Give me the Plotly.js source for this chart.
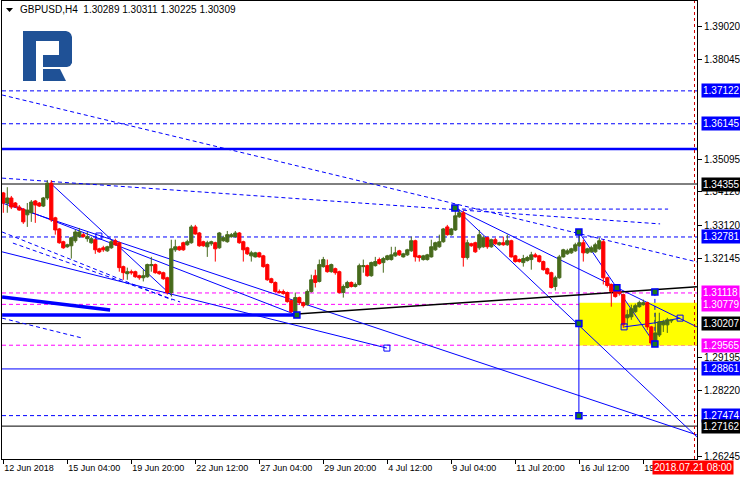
<!DOCTYPE html>
<html><head><meta charset="utf-8">
<script src="https://cdn.plot.ly/plotly-3.0.1.min.js"></script>
<style>html,body{margin:0;padding:0;background:#fff;}#chart{width:740px;height:480px;}</style>
</head><body><div id="chart"></div>
<script>
// ---- data (GBPUSD H4) ----
const symbolName = 'GBPUSD,H4';
const open = [1.3409,1.3379,1.3394,1.3379,1.3367,1.3361,1.3344,1.3350,1.3385,1.3379,1.3370,1.3394,1.3438,1.3335,1.3302,1.3264,1.3249,1.3252,1.3267,1.3279,
1.3285,1.3273,1.3261,1.3270,1.3243,1.3246,1.3237,1.3246,1.3267,1.3261,1.3190,1.3169,1.3175,1.3175,1.3163,1.3157,1.3160,1.3193,1.3196,1.3175,
1.3172,1.3157,1.3113,1.3240,1.3249,1.3261,1.3255,1.3261,1.3308,1.3290,1.3264,1.3249,1.3258,1.3261,1.3246,1.3267,1.3264,1.3279,1.3279,1.3290,
1.3264,1.3246,1.3222,1.3219,1.3231,1.3222,1.3196,1.3154,1.3143,1.3116,1.3116,1.3113,1.3089,1.3056,1.3098,1.3083,1.3077,1.3116,1.3163,1.3146,
1.3190,1.3193,1.3175,1.3184,1.3175,1.3113,1.3128,1.3143,1.3131,1.3137,1.3190,1.3193,1.3163,1.3193,1.3211,1.3202,1.3211,1.3211,1.3222,1.3237,
1.3219,1.3225,1.3237,1.3267,1.3222,1.3211,1.3211,1.3219,1.3240,1.3249,1.3264,1.3308,1.3285,1.3299,1.3338,1.3350,1.3217,1.3258,1.3261,1.3246,
1.3249,1.3276,1.3249,1.3270,1.3255,1.3261,1.3255,1.3267,1.3222,1.3211,1.3202,1.3208,1.3211,1.3225,1.3222,1.3205,1.3184,1.3172,1.3131,1.3157,
1.3219,1.3228,1.3231,1.3237,1.3252,1.3261,1.3231,1.3234,1.3234,1.3243,1.3264,1.3157,1.3137,1.3122,1.3119,1.3107,1.3038,1.3041,1.3056,1.3071,
1.3077,1.3083,1.3011,1.2963,1.2987,1.3017,1.3017,1.30289];
const high = [1.3412,1.3426,1.3400,1.3382,1.3373,1.3364,1.3379,1.3388,1.3388,1.3382,1.3397,1.3447,1.3447,1.3338,1.3305,1.3267,1.3258,1.3279,1.3299,1.3305,
1.3290,1.3293,1.3279,1.3276,1.3246,1.3252,1.3252,1.3270,1.3273,1.3264,1.3193,1.3187,1.3181,1.3178,1.3166,1.3181,1.3199,1.3219,1.3199,1.3178,
1.3175,1.3160,1.3270,1.3270,1.3252,1.3264,1.3270,1.3314,1.3314,1.3293,1.3267,1.3267,1.3267,1.3264,1.3293,1.3282,1.3296,1.3290,1.3296,1.3293,
1.3267,1.3249,1.3237,1.3234,1.3234,1.3225,1.3199,1.3157,1.3146,1.3122,1.3122,1.3116,1.3092,1.3113,1.3101,1.3086,1.3122,1.3166,1.3181,1.3211,
1.3219,1.3211,1.3199,1.3187,1.3178,1.3137,1.3148,1.3146,1.3143,1.3199,1.3211,1.3196,1.3205,1.3219,1.3217,1.3219,1.3225,1.3249,1.3249,1.3240,
1.3231,1.3243,1.3279,1.3270,1.3225,1.3225,1.3228,1.3270,1.3264,1.3285,1.3305,1.3314,1.3305,1.3364,1.3358,1.3356,1.3270,1.3261,1.3264,1.3299,
1.3282,1.3279,1.3273,1.3276,1.3264,1.3279,1.3285,1.3270,1.3225,1.3214,1.3225,1.3222,1.3234,1.3231,1.3225,1.3208,1.3187,1.3175,1.3163,1.3225,
1.3243,1.3243,1.3246,1.3261,1.3293,1.3270,1.3246,1.3252,1.3261,1.3276,1.3270,1.3160,1.3140,1.3128,1.3128,1.3110,1.3062,1.3077,1.3080,1.3089,
1.3092,1.3086,1.3014,1.3053,1.3053,1.3032,1.3038,1.30311];
const low = [1.3350,1.3350,1.3361,1.3364,1.3356,1.3317,1.3308,1.3323,1.3320,1.3367,1.3367,1.3388,1.3323,1.3285,1.3258,1.3243,1.3246,1.3214,1.3261,1.3276,
1.3276,1.3264,1.3258,1.3228,1.3231,1.3234,1.3234,1.3243,1.3252,1.3175,1.3151,1.3151,1.3166,1.3157,1.3151,1.3146,1.3157,1.3175,1.3169,1.3166,
1.3151,1.3107,1.3101,1.3234,1.3237,1.3237,1.3252,1.3258,1.3285,1.3249,1.3249,1.3219,1.3252,1.3205,1.3243,1.3264,1.3261,1.3276,1.3276,1.3258,
1.3205,1.3225,1.3205,1.3217,1.3217,1.3187,1.3148,1.3140,1.3113,1.3110,1.3107,1.3083,1.3053,1.3047,1.3077,1.3068,1.3074,1.3113,1.3128,1.3143,
1.3187,1.3172,1.3172,1.3166,1.3110,1.3098,1.3125,1.3128,1.3128,1.3134,1.3172,1.3160,1.3160,1.3190,1.3196,1.3172,1.3208,1.3208,1.3219,1.3222,
1.3217,1.3222,1.3234,1.3205,1.3205,1.3208,1.3208,1.3217,1.3237,1.3246,1.3261,1.3282,1.3282,1.3296,1.3335,1.3190,1.3211,1.3249,1.3231,1.3240,
1.3246,1.3243,1.3246,1.3255,1.3252,1.3252,1.3252,1.3217,1.3202,1.3202,1.3190,1.3205,1.3181,1.3217,1.3202,1.3178,1.3166,1.3125,1.3119,1.3154,
1.3217,1.3225,1.3228,1.3234,1.3249,1.3205,1.3228,1.3231,1.3231,1.3240,1.3137,1.3128,1.3071,1.3098,1.3104,1.3008,1.3017,1.3032,1.3053,1.3068,
1.3074,1.3002,1.2958,1.2958,1.2981,1.2996,1.2993,1.30225];
const close = [1.3379,1.3394,1.3367,1.3367,1.3358,1.3323,1.3358,1.3382,1.3373,1.3370,1.3394,1.3438,1.3329,1.3299,1.3261,1.3246,1.3255,1.3276,1.3293,1.3293,
1.3279,1.3279,1.3273,1.3240,1.3234,1.3240,1.3249,1.3264,1.3255,1.3187,1.3172,1.3175,1.3172,1.3160,1.3157,1.3163,1.3196,1.3196,1.3172,1.3169,
1.3154,1.3113,1.3243,1.3249,1.3240,1.3240,1.3264,1.3308,1.3287,1.3252,1.3252,1.3261,1.3264,1.3243,1.3290,1.3276,1.3285,1.3285,1.3290,1.3261,
1.3240,1.3228,1.3231,1.3231,1.3219,1.3190,1.3151,1.3143,1.3116,1.3113,1.3110,1.3086,1.3056,1.3098,1.3083,1.3074,1.3116,1.3151,1.3143,1.3196,
1.3211,1.3175,1.3196,1.3172,1.3113,1.3131,1.3143,1.3131,1.3137,1.3193,1.3193,1.3163,1.3202,1.3205,1.3199,1.3214,1.3222,1.3225,1.3231,1.3225,
1.3228,1.3240,1.3267,1.3219,1.3217,1.3222,1.3225,1.3249,1.3261,1.3264,1.3302,1.3285,1.3302,1.3341,1.3350,1.3217,1.3261,1.3252,1.3234,1.3285,
1.3276,1.3249,1.3270,1.3258,1.3261,1.3255,1.3267,1.3219,1.3205,1.3205,1.3214,1.3217,1.3225,1.3219,1.3205,1.3181,1.3169,1.3128,1.3157,1.3219,
1.3240,1.3237,1.3243,1.3255,1.3261,1.3231,1.3243,1.3246,1.3255,1.3267,1.3157,1.3134,1.3116,1.3101,1.3110,1.3017,1.3047,1.3065,1.3074,1.3083,
1.3083,1.3011,1.2963,1.2993,1.3026,1.3026,1.3032,1.30309];
const barIndex = open.map((_, i) => i);

// time-axis labels (every 16 bars)
const tickIndex = [0,16,32,48,64,80,96,112,128,144,160];
const tickLabels = ['12 Jun 2018','15 Jun 04:00','19 Jun 20:00','22 Jun 12:00','27 Jun 04:00','29 Jun 20:00','4 Jul 12:00','9 Jul 04:00','11 Jul 20:00','16 Jul 12:00','19 Jul 04:00'];
const cursorTime = '2018.07.21 08:00';
const cursorIndex = 172.8;

// price scale ticks
const priceTicks = [1.39020,1.38045,1.35095,1.34120,1.33120,1.32145,1.29195,1.28220,1.26245];

// horizontal levels
const blueDashLevels = [1.37122,1.36145,1.32781,1.27474];
const blueSolidLevels = [1.28861];
const blueThickLevels = [1.35396];
const blackLevels = [1.34355,1.30207,1.27162];
const magentaLevels = [1.31118,1.30779,1.29565];

// trend lines [bar0, price0, bar1, price1]
const dashedTrends = [[-0.3,1.3700,173.4,1.3204],[-0.3,1.3453,164.2,1.3317],[112.9,1.3361,166.2,1.3361],
  [-0.3,1.3293,42.2,1.3091],[2.4,1.3260,44.2,1.3085],[-0.3,1.3037,19.7,1.2978],[162.9,1.3115,162.9,1.2960]];
const solidTrends = [[-0.3,1.3379,173.4,1.2690],[-0.3,1.3385,73.4,1.3046],[-0.3,1.3234,95.9,1.2948],[11.7,1.3439,42.2,1.3103],
  [112.9,1.3364,173.4,1.2684],[143.9,1.3293,162.9,1.2960],[112.9,1.3364,173.4,1.3011],[143.9,1.3293,143.9,1.2747],
  [155.2,1.3011,162.9,1.3023],[162.9,1.3023,169.2,1.3037]];
const thickTrends = [[-0.3,1.3100,26.7,1.3061],[-0.3,1.3046,73.4,1.3046]];
const blackTrends = [[73.4,1.3049,173.4,1.3130]];
const zoneBars = [143.9,173.4];
const zonePrices = [1.2956,1.3083];
const anchorBars = [112.9,143.9,143.9,143.9,153.4,162.9,162.9,73.4];
const anchorPrices = [1.3364,1.3293,1.3021,1.2747,1.3127,1.2960,1.3115,1.3046];
const openBoxBars = [23.9,95.9,155.2,169.2];
const openBoxPrices = [1.3281,1.2948,1.3011,1.3037];

// ---- drawing ----
const FONT = 'Liberation Sans, Arial, sans-serif';
const BLUE = '#0000ff', MAG = '#ff00ff', GREEN = '#476a1c', RED = '#ff0000';
const M = {l:2, r:43, t:1, b:21};
const PW = 740 - M.l - M.r, PH = 480 - M.t - M.b;
const pX = x => (x - M.l) / PW;
const pY = y => 1 - (y - M.t) / PH;
const pathOf = pts => 'M' + pts.map(p => pX(p[0]).toFixed(5) + ',' + pY(p[1]).toFixed(5)).join('L') + 'Z';

const shapes = [];
shapes.push({type:'rect', xref:'x', yref:'y', x0:zoneBars[0], x1:zoneBars[1], y0:zonePrices[0], y1:zonePrices[1],
  fillcolor:'#ffff00', line:{width:0}, layer:'below'});
const hline = (p, color, dash, w) => shapes.push({type:'line', xref:'paper', yref:'y', x0:0, x1:1, y0:p, y1:p,
  line:{color:color, width:w, dash:dash}, layer:'below'});
blueDashLevels.forEach(p => hline(p, BLUE, '4px,3px', 1));
blueSolidLevels.forEach(p => hline(p, BLUE, 'solid', 1));
blueThickLevels.forEach(p => hline(p, BLUE, 'solid', 2.5));
blackLevels.forEach(p => hline(p, '#000', 'solid', 1));
magentaLevels.forEach(p => hline(p, MAG, '4px,3px', 1));
const seg = (t, color, dash, w) => shapes.push({type:'line', xref:'x', yref:'y', x0:t[0], y0:t[1], x1:t[2], y1:t[3],
  line:{color:color, width:w, dash:dash}, layer:'below'});
dashedTrends.forEach(t => seg(t, BLUE, '4px,3px', 1));
solidTrends.forEach(t => seg(t, BLUE, 'solid', 1));
thickTrends.forEach(t => seg(t, BLUE, 'solid', 3.5));
blackTrends.forEach(t => seg(t, '#000', 'solid', 1.5));
shapes.push({type:'line', xref:'x', yref:'paper', x0:cursorIndex, x1:cursorIndex, y0:0, y1:1,
  line:{color:'#d00000', width:1, dash:'3px,3px'}});
// logo
const LOGO = '#1f5196';
shapes.push({type:'path', xref:'paper', yref:'paper', fillcolor:LOGO, line:{width:0},
  path:pathOf([[23,31],[66,31],[69,32],[71,34],[72,37],[72,61],[59,61],[59,41],[36,41],[36,81],[23,81]])});
shapes.push({type:'path', xref:'paper', yref:'paper', fillcolor:LOGO, line:{width:0},
  path:pathOf([[43,55],[72,55],[72,63],[70,66],[67,67],[43,67]])});
shapes.push({type:'path', xref:'paper', yref:'paper', fillcolor:LOGO, line:{width:0},
  path:pathOf([[43,69],[60,69],[66,81],[43,81]])});
// header triangle
shapes.push({type:'path', xref:'paper', yref:'paper', fillcolor:'#000', line:{width:0},
  path:pathOf([[6,8],[13,8],[9.5,12]])});

const annotations = [];
const last = open.length - 1;
annotations.push({xref:'paper', yref:'paper', x:pX(18), y:pY(10), xanchor:'left', yanchor:'middle', showarrow:false,
  text: symbolName + '  ' + [open[last], high[last], low[last], close[last]].map(v => v.toFixed(5)).join(' '),
  font:{family:FONT, size:10, color:'#000'}});
const tag = (p, bg) => annotations.push({xref:'paper', yref:'y', x:1, xshift:4, y:p, xanchor:'left', yanchor:'middle',
  showarrow:false, text:p.toFixed(5), bgcolor:bg, borderpad:1, font:{family:FONT, size:10, color:'#fff'}});
blueDashLevels.forEach(p => tag(p, BLUE));
blueSolidLevels.forEach(p => tag(p, BLUE));
blackLevels.forEach(p => tag(p, '#000'));
magentaLevels.forEach(p => tag(p, MAG));
annotations.push({xref:'paper', yref:'paper', x:pX(652), y:pY(460), xanchor:'left', yanchor:'top', showarrow:false,
  text:cursorTime, bgcolor:RED, borderpad:1, font:{family:FONT, size:10, color:'#fff'}});

const traces = [
  {type:'candlestick', x:barIndex, open:open, high:high, low:low, close:close, hoverinfo:'skip', whiskerwidth:0,
   increasing:{line:{color:GREEN, width:1}, fillcolor:GREEN},
   decreasing:{line:{color:RED, width:1}, fillcolor:RED}},
  {type:'scatter', mode:'markers', x:anchorBars, y:anchorPrices, hoverinfo:'skip',
   marker:{symbol:'square', size:6, color:'#1e7a1e', line:{color:BLUE, width:1.5}}},
  {type:'scatter', mode:'markers', x:openBoxBars, y:openBoxPrices, hoverinfo:'skip',
   marker:{symbol:'square-open', size:6, color:BLUE, line:{width:1}}}
];

const layout = {
  width:740, height:480, margin:M, paper_bgcolor:'#fff', plot_bgcolor:'#fff', showlegend:false,
  boxgap:0.2, boxgroupgap:0,
  xaxis:{range:[-0.325,173.425], tickmode:'array', tickvals:tickIndex, ticktext:tickLabels, ticks:'outside', ticklen:4,
    tickcolor:'#000', ticklabelposition:'outside right', showgrid:false, zeroline:false, showline:true, mirror:true,
    linecolor:'#000', linewidth:1, rangeslider:{visible:false}, fixedrange:true,
    tickfont:{family:FONT, size:9, color:'#000'}},
  yaxis:{side:'right', range:[1.26185,1.39792], tickmode:'array', tickvals:priceTicks, tickformat:'.5f', ticks:'outside',
    ticklen:4, tickcolor:'#000', showgrid:false, zeroline:false, showline:true, mirror:true, linecolor:'#000',
    linewidth:1, fixedrange:true, tickfont:{family:FONT, size:10, color:'#000'}},
  shapes:shapes, annotations:annotations
};
Plotly.newPlot('chart', traces, layout, {staticPlot:true, displayModeBar:false});
</script>
</body></html>
